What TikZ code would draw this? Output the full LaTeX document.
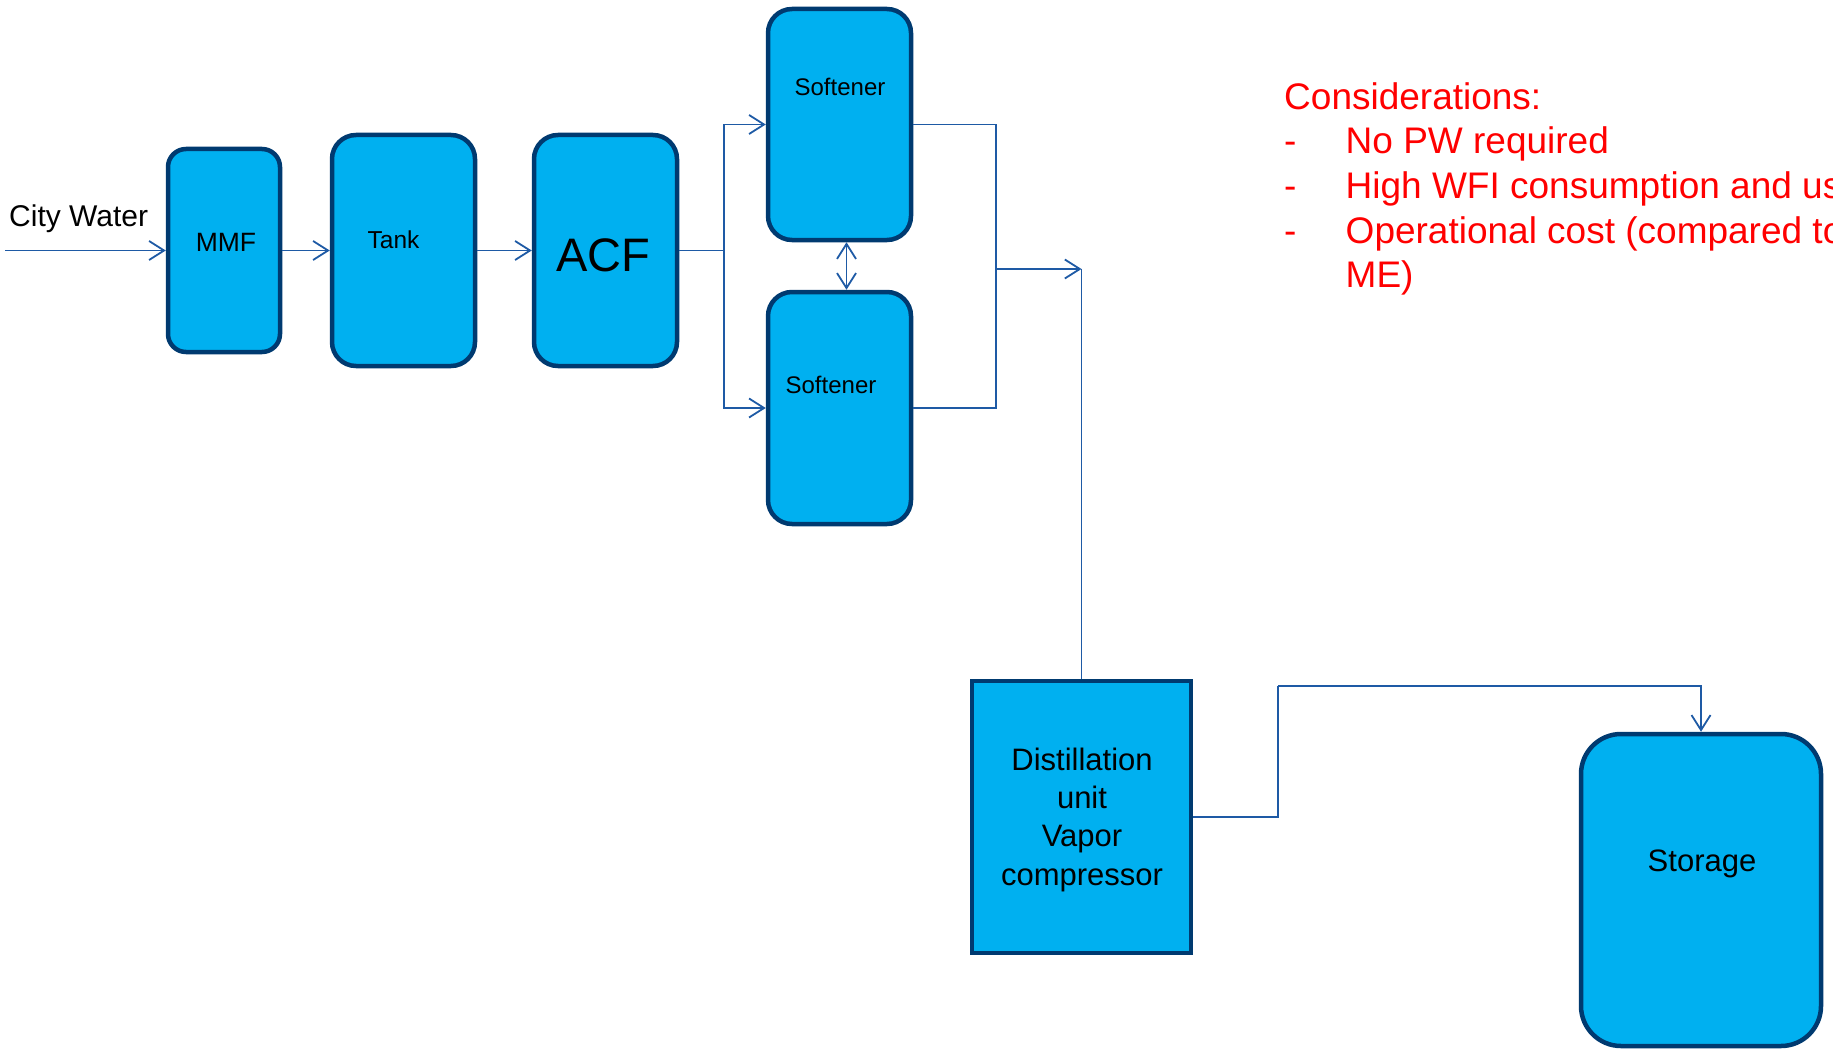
\documentclass[tikz,border=0pt]{standalone}
\usepackage{fontspec}
\setmainfont{Liberation Sans}
\usetikzlibrary{arrows.meta}
\definecolor{fillc}{RGB}{0,176,240}
\definecolor{edgec}{RGB}{0,58,112}
\definecolor{linec}{RGB}{30,90,165}
\definecolor{redc}{RGB}{255,0,0}
\newcommand{\fsz}[1]{\fontsize{#1}{#1}\selectfont}
\begin{document}
\begin{tikzpicture}[x=1pt,y=-1pt,
  box/.style={draw=edgec, fill=fillc, line width=4.5pt, rounded corners=#1, inner sep=0pt},
  box/.default=22pt,
  lbl/.style={inner sep=0pt, anchor=base, text=black},
  note/.style={inner sep=0pt, anchor=base west, text=redc, font=\fsz{37pt}},
  conn/.style={draw=linec, line width=1.8pt},
  arr/.style={conn, -{Straight Barb[length=15pt,width=19pt]}},
  arrboth/.style={conn, {Straight Barb[length=15pt,width=19pt]}-{Straight Barb[length=15pt,width=19pt]}}]
\useasboundingbox (0,0) rectangle (1833,1051);
\clip (0,0) rectangle (1833,1051);

% boxes
\node[box=18pt, minimum width=112pt, minimum height=203pt] (mmf) at (224,250.5) {};
\node[box=24pt, minimum width=143pt, minimum height=231pt] (tank) at (403.5,250.5) {};
\node[box=24pt, minimum width=143pt, minimum height=231pt] (acf) at (605.5,250.5) {};
\node[box=24pt, minimum width=143pt, minimum height=231pt] (sofa) at (839.5,124.5) {};
\node[box=24pt, minimum width=143pt, minimum height=232pt] (sofb) at (839.5,408) {};
\node[box=0pt, minimum width=219pt, minimum height=272pt] (dist) at (1081.5,817) {};
\node[box=40pt, minimum width=240pt, minimum height=312pt] (stor) at (1701,890) {};

% labels
\node[lbl, anchor=base west, font=\fsz{30pt}] (cwt) at (9,226) {City Water};
\node[lbl, font=\fsz{26.5pt}] (mmft) at (226,251.7) {MMF};
\node[lbl, font=\fsz{24.5pt}] (tankt) at (393.5,248.3) {Tank};
\node[lbl, font=\fsz{47pt}] (acft) at (603,271.7) {ACF};
\node[lbl, font=\fsz{24pt}] (sofat) at (840,96) {Softener};
\node[lbl, font=\fsz{24pt}] (sofbt) at (831,393) {Softener};
\node[lbl, font=\fsz{31pt}] (d1) at (1082,770) {Distillation};
\node[lbl, font=\fsz{31pt}] (d2) at (1082,808) {unit};
\node[lbl, font=\fsz{31pt}] (d3) at (1082,846.5) {Vapor};
\node[lbl, font=\fsz{31pt}] (d4) at (1082,885) {compressor};
\node[lbl, font=\fsz{31pt}] (stort) at (1702,871.7) {Storage};

% considerations
\node[note] (c0) at (1284,109.3) {Considerations:};
\node[note] (c1d) at (1284,153.3) {-};
\node[note] (c1) at (1345.5,153.3) {No PW required};
\node[note] (c2d) at (1284,198.3) {-};
\node[note] (c2) at (1345.5,198.3) {High WFI consumption and us};
\node[note] (c3d) at (1284,243.3) {-};
\node[note] (c3) at (1345.5,243.3) {Operational cost (compared to};
\node[note] (c4) at (1345.5,287.7) {ME)};

% coordinates
\coordinate (cw) at (5,250.5);
\coordinate (j1) at (724,250.5);
\coordinate (j2) at (996,269);
\coordinate (j3) at (1081.5,269);
\coordinate (k1) at (1278,686);

% connectors
\draw[arr] (cw) -- (mmf.west);
\draw[arr] (mmf.east) -- (tank.west);
\draw[arr] (tank.east) -- (acf.west);
\draw[conn] (acf.east) -- (j1);
\draw[arr] (j1) |- (sofa.west);
\draw[arr] (j1) |- (sofb.west);
\draw[arrboth] ([xshift=7pt]sofa.south) -- ([xshift=7pt]sofb.north);
\draw[conn] (sofa.east) -| (j2);
\draw[conn] (sofb.east) -| (j2);
\draw[arr] (j2) -- (j3);
\draw[conn] (j3) -- (dist.north);
\draw[conn] (dist.east) -| (k1);
\draw[arr] (k1) -| (stor.north);
\end{tikzpicture}
\end{document}
